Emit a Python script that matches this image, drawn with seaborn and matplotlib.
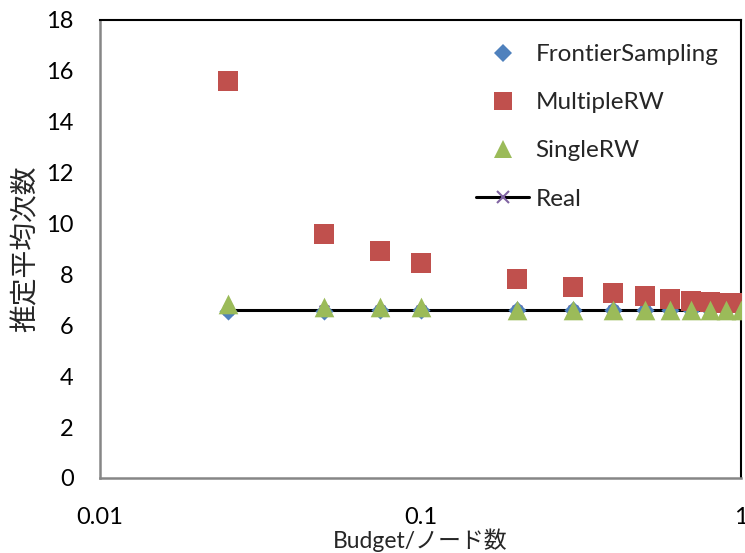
import matplotlib
matplotlib.use("Agg")
import matplotlib.pyplot as plt
import pandas as pd
import seaborn as sns
from matplotlib.lines import Line2D

# Sampling budget as a fraction of the number of nodes
budget = [0.025, 0.05, 0.075, 0.1, 0.2, 0.3, 0.4, 0.5, 0.6, 0.7, 0.8, 0.9, 1.0]

# Estimated average degree for each sampling method
frontier = [6.58, 6.58, 6.59, 6.59, 6.60, 6.60, 6.60, 6.60, 6.60, 6.60, 6.60, 6.60, 6.60]
multiple_rw = [15.62, 9.58, 8.91, 8.44, 7.83, 7.50, 7.26, 7.15, 7.05, 6.97, 6.93, 6.89, 6.87]
single_rw = [6.85, 6.73, 6.72, 6.71, 6.60, 6.60, 6.60, 6.60, 6.60, 6.60, 6.60, 6.60, 6.60]
real = [6.62, 6.62, 6.62, 6.62, 6.62, 6.62, 6.62, 6.62, 6.62, 6.62, 6.62, 6.62, 6.62]

series_names = ["FrontierSampling", "MultipleRW", "SingleRW", "Real"]
colors = {"FrontierSampling": "#4F81BD", "MultipleRW": "#C0504D",
          "SingleRW": "#9BBB59", "Real": "#8064A2"}

y_ticks = [0, 2, 4, 6, 8, 10, 12, 14, 16, 18]
x_ticks = [0.01, 0.1, 1]
x_tick_labels = ["0.01", "0.1", "1"]

sns.set_theme(style="white")
plt.rcParams["font.family"] = ["Lato", "Noto Sans CJK JP", "DejaVu Sans"]

fig = plt.figure(figsize=(7.45, 5.53), dpi=100)
ax = fig.add_axes([100 / 745, 1 - 478 / 553, 641 / 745, 458 / 553])

df_real = pd.DataFrame({"budget": budget, "value": real})
df_fs = pd.DataFrame({"budget": budget, "value": frontier})
df_mrw = pd.DataFrame({"budget": budget, "value": multiple_rw})
df_srw = pd.DataFrame({"budget": budget, "value": single_rw})

# Reference line with cross markers sits beneath the scatter series
sns.lineplot(data=df_real, x="budget", y="value", ax=ax, color="black",
             linewidth=2.2, zorder=2, legend=False)
sns.scatterplot(data=df_real, x="budget", y="value", ax=ax, marker="x",
                color=colors["Real"], s=50, linewidth=1.5, zorder=2.5, legend=False)
sns.scatterplot(data=df_fs, x="budget", y="value", ax=ax, marker="D",
                color=colors["FrontierSampling"], s=85, linewidth=0, zorder=3, legend=False)
sns.scatterplot(data=df_mrw, x="budget", y="value", ax=ax, marker="s",
                color=colors["MultipleRW"], s=215, linewidth=0, zorder=4, legend=False)
sns.scatterplot(data=df_srw, x="budget", y="value", ax=ax, marker="^",
                color=colors["SingleRW"], s=200, linewidth=0, zorder=5, legend=False)

ax.set_xscale("log")
ax.set_xlim(0.01, 1)
ax.set_ylim(0, 18)
ax.set_yticks(y_ticks)
ax.set_yticklabels([str(v) for v in y_ticks])
ax.set_xticks(x_ticks)
ax.set_xticklabels(x_tick_labels)
ax.minorticks_off()

ax.tick_params(axis="both", which="major", direction="out", length=8, width=1.5,
               color="#868686", labelsize=17, labelcolor="black")
ax.tick_params(axis="y", pad=11)
ax.tick_params(axis="x", pad=13)

for side in ("left", "bottom"):
    ax.spines[side].set_color("#868686")
    ax.spines[side].set_linewidth(1.8)
for side in ("top", "right"):
    ax.spines[side].set_color("black")
    ax.spines[side].set_linewidth(1.5)

ax.set_xlabel("Budget/ノード数", fontsize=16.5, labelpad=0)
ax.set_ylabel("推定平均次数", fontsize=20, labelpad=5)

handles = [
    Line2D([], [], linestyle="none", marker="D", markersize=9,
           markerfacecolor=colors["FrontierSampling"], markeredgewidth=0),
    Line2D([], [], linestyle="none", marker="s", markersize=12.5,
           markerfacecolor=colors["MultipleRW"], markeredgewidth=0),
    Line2D([], [], linestyle="none", marker="^", markersize=12.5,
           markerfacecolor=colors["SingleRW"], markeredgewidth=0),
    Line2D([], [], color="black", linewidth=2.2, marker="x", markersize=9,
           markeredgecolor=colors["Real"], markeredgewidth=1.5),
]
fig.legend(handles, series_names, loc="upper left",
           bbox_to_anchor=(476 / 745, 1 - 44 / 553), frameon=False,
           fontsize=17.5, handlelength=2.2, handletextpad=0.25,
           labelspacing=1.12, borderpad=0, borderaxespad=0)

fig.savefig("out.png", dpi=100)
